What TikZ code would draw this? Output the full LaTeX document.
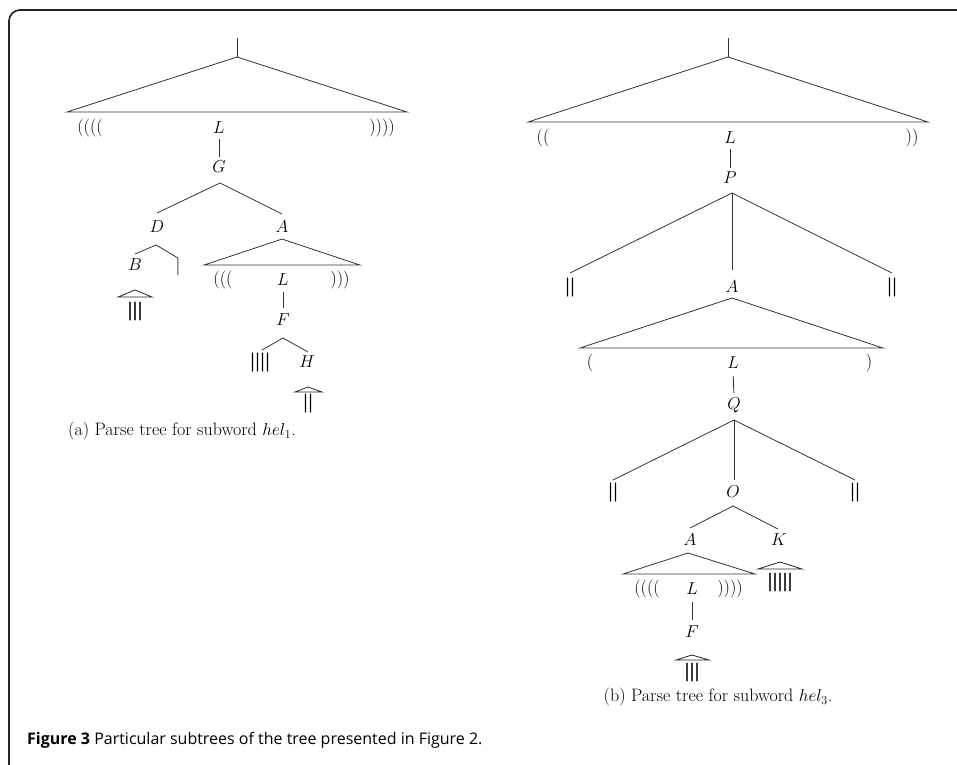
\documentclass[tikz,border=0pt]{standalone}
\usepackage{fontspec}
\newfontfamily\capfont{Open Sans}
% terminal bars are set with a stroked outline so that they print heavier
\newcommand{\heavy}[1]{\special{pdf:literal direct 0 G 2 Tr 0.7 w}#1\special{pdf:literal direct 0 Tr}}
\begin{document}
\begin{tikzpicture}[x=1pt,y=-1pt,
  lbl/.style={inner sep=0pt, font=\fontsize{18}{21}\selectfont},
  term/.style={inner sep=0pt, font=\fontsize{18}{21}\selectfont},
  edge/.style={draw=black!80, line width=0.8pt},
  roof/.style={draw=black!85, line width=0.8pt},
  frame/.style={draw=black!85, line width=1.7pt, rounded corners=11pt}]
\useasboundingbox (0,0) rectangle (957,764);
\draw[frame] (9,790) -- (9,10) -- (990,10);

% ---------- (a) parse tree for hel_1 ----------
\coordinate (a-tick) at (237,38);
\coordinate (a-apex) at (237,57);
\coordinate (a-bl) at (67,112);
\coordinate (a-br) at (407,112);
\draw[edge] (a-tick) -- (a-apex);
\draw[edge] (a-bl) -- (a-apex) -- (a-br) -- cycle;
\node[lbl] (a-lp) at (90,128) {((((};
\node[lbl] (a-L) at (219,128) {$L$};
\node[lbl] (a-rp) at (382,128) {))))};
\node[lbl] (a-G) at (219,167) {$G$};
\draw[edge, shorten <=5pt, shorten >=4pt] (a-L.south) -- (a-G.north);
% G -> D, A
\coordinate (a-Gx) at (220,183);
\coordinate (a-Dt) at (157,213);
\coordinate (a-At) at (282,214);
\draw[edge] (a-Dt) -- (a-Gx) -- (a-At);
\node[lbl] (a-D) at (157,227) {$D$};
\node[lbl] (a-A) at (282,227) {$A$};
% D -> B, |
\coordinate (a-Dx) at (156,245);
\coordinate (a-Bt) at (135,254);
\coordinate (a-bart) at (178,258);
\draw[edge] (a-Bt) -- (a-Dx) -- (a-bart);
\node[lbl] (a-B) at (135,265) {$B$};
\node[lbl, anchor=north] (a-bar) at (a-bart) {$|$};
% roof over |||
\coordinate (a-r1x) at (135,290);
\coordinate (a-r1l) at (118,297);
\coordinate (a-r1r) at (152,297);
\draw[roof] (a-r1l) -- (a-r1x) -- (a-r1r) -- cycle;
\node[term] (a-t1) at (135,311) {\heavy{|||}};
% A -> ((( L )))
\coordinate (a-Ax) at (282,239);
\coordinate (a-Abl) at (204,265);
\coordinate (a-Abr) at (360,265);
\draw[edge] (a-Abl) -- (a-Ax) -- (a-Abr) -- cycle;
\node[lbl] (a-lp2) at (223,280) {(((};
\node[lbl] (a-L2) at (283,280) {$L$};
\node[lbl] (a-rp2) at (340,280) {)))};
\node[lbl] (a-F) at (283,320) {$F$};
\draw[edge, shorten <=6pt, shorten >=6pt] (a-L2.south) -- (a-F.north);
% F -> ||||, H
\coordinate (a-Fx) at (283,338);
\coordinate (a-t2t) at (262,350);
\coordinate (a-Ht) at (308,352);
\draw[edge] (a-t2t) -- (a-Fx) -- (a-Ht);
\node[term] (a-t2) at (260,362) {\heavy{||||}};
\node[lbl] (a-H) at (307,362) {$H$};
\coordinate (a-r2x) at (308,387);
\coordinate (a-r2l) at (295,392);
\coordinate (a-r2r) at (322,392);
\draw[roof] (a-r2l) -- (a-r2x) -- (a-r2r) -- cycle;
\node[term] (a-t3) at (308,403) {\heavy{||}};
\node[lbl] (a-cap) at (182,431) {(a) Parse tree for subword $hel_1$.};

% ---------- (b) parse tree for hel_3 ----------
\coordinate (b-tick) at (728,38);
\coordinate (b-apex) at (728,57);
\coordinate (b-bl) at (528,122);
\coordinate (b-br) at (928,122);
\draw[edge] (b-tick) -- (b-apex);
\draw[edge] (b-bl) -- (b-apex) -- (b-br) -- cycle;
\node[lbl] (b-lp) at (543,138) {((};
\node[lbl] (b-L) at (730,138) {$L$};
\node[lbl] (b-rp) at (912,138) {))};
\node[lbl] (b-P) at (730,178) {$P$};
\draw[edge, shorten <=5pt, shorten >=4pt] (b-L.south) -- (b-P.north);
% P -> ||, A, ||
\coordinate (b-Px) at (732,193);
\coordinate (b-p1) at (570,273);
\coordinate (b-p2) at (732,270);
\coordinate (b-p3) at (892,273);
\draw[edge] (b-p1) -- (b-Px) -- (b-p3);
\draw[edge] (b-Px) -- (b-p2);
\node[term] (b-t1) at (570,287) {\heavy{||}};
\node[lbl] (b-A) at (732,287) {$A$};
\node[term] (b-t2) at (892,287) {\heavy{||}};
% A -> ( L )
\coordinate (b-Ax) at (732,298);
\coordinate (b-Abl) at (580,348);
\coordinate (b-Abr) at (883,348);
\draw[edge] (b-Abl) -- (b-Ax) -- (b-Abr) -- cycle;
\node[lbl] (b-lp2) at (590,363) {(};
\node[lbl] (b-L2) at (733,363) {$L$};
\node[lbl] (b-rp2) at (869,363) {)};
\node[lbl] (b-Q) at (734,405) {$Q$};
\draw[edge, shorten <=7pt, shorten >=4pt] (b-L2.south) -- (b-Q.north);
% Q -> ||, O, ||
\coordinate (b-Qx) at (734,420);
\coordinate (b-q1) at (613,480);
\coordinate (b-q2) at (734,480);
\coordinate (b-q3) at (855,480);
\draw[edge] (b-q1) -- (b-Qx) -- (b-q3);
\draw[edge] (b-Qx) -- (b-q2);
\node[term] (b-t3) at (613,492) {\heavy{||}};
\node[lbl] (b-O) at (733,492) {$O$};
\node[term] (b-t4) at (855,492) {\heavy{||}};
% O -> A, K
\coordinate (b-Ox) at (733,506);
\coordinate (b-A2t) at (690,528);
\coordinate (b-Kt) at (778,529);
\draw[edge] (b-A2t) -- (b-Ox) -- (b-Kt);
\node[lbl] (b-A2) at (690,540) {$A$};
\node[lbl] (b-K) at (779,540) {$K$};
% A -> (((( L ))))
\coordinate (b-A2x) at (688,553);
\coordinate (b-A2l) at (623,574);
\coordinate (b-A2r) at (755,574);
\draw[edge] (b-A2l) -- (b-A2x) -- (b-A2r) -- cycle;
\node[lbl] (b-lp3) at (647,589) {((((};
\node[lbl] (b-L3) at (692,589) {$L$};
\node[lbl] (b-rp3) at (730,589) {))))};
\node[lbl] (b-F) at (692,632) {$F$};
\draw[edge, shorten <=7pt, shorten >=6pt] (b-L3.south) -- (b-F.north);
% roof over ||| under F
\coordinate (b-r1x) at (692,655);
\coordinate (b-r1l) at (676,660);
\coordinate (b-r1r) at (709,660);
\draw[roof] (b-r1l) -- (b-r1x) -- (b-r1r) -- cycle;
\node[term] (b-t5) at (692,672) {\heavy{|||}};
% roof over ||||| under K
\coordinate (b-r2x) at (780,562);
\coordinate (b-r2l) at (758,569);
\coordinate (b-r2r) at (802,569);
\draw[roof] (b-r2l) -- (b-r2x) -- (b-r2r) -- cycle;
\node[term] (b-t6) at (780,582) {\heavy{|||||}};
\node[lbl] (b-cap) at (718,697) {(b) Parse tree for subword $hel_3$.};

% ---------- figure caption ----------
\node[inner sep=0pt, anchor=west, font=\capfont\fontsize{16}{19}\selectfont] (figcap) at (27,740)
  {\textbf{Figure 3} Particular subtrees of the tree presented in Figure 2.};
\end{tikzpicture}
\end{document}
